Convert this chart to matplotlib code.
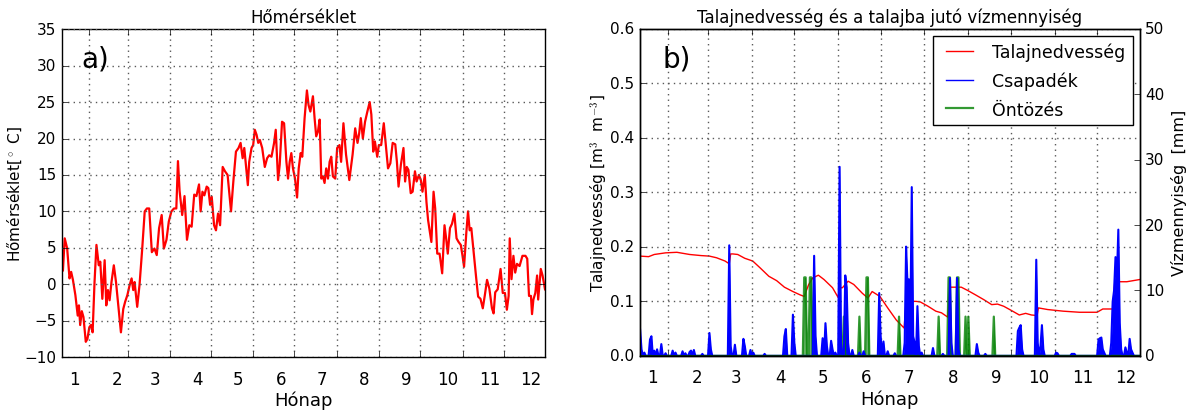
import matplotlib
matplotlib.use('Agg')
import matplotlib.pyplot as plt
import numpy as np

# honapok kezdonapja (az ev napja) es a cimkek
month_start = [1, 32, 60, 91, 121, 152, 182, 213, 244, 274, 305, 335]
month_labels = ['1', '2', '3', '4', '5', '6', '7', '8', '9', '10', '11', '12']

# homerseklet [C], leolvasva
temp_day = [12.7, 14.0, 15.8, 17.5, 18.7, 20.0, 21.8, 23.5, 24.4, 25.3, 26.5, 27.7, 29.4, 30.6,
            32.0, 33.2, 34.4, 35.8, 37.2, 38.9, 40.0, 41.5, 43.2, 44.4, 45.6, 46.8, 48.2, 49.9,
            51.5, 53.4, 55.1, 56.8, 58.2, 59.8, 61.5, 62.9, 64.1, 65.1, 67.0, 68.7, 70.6, 72.5,
            74.1, 75.8, 77.7, 79.6, 81.3, 83.0, 84.9, 86.5, 88.4, 90.1, 92.0, 93.9, 95.6, 96.8,
            98.0, 99.9, 101.6, 103.4, 105.1, 106.8, 108.7, 110.3, 112.2, 113.4,
            114.7, 116.1, 117.8, 119.0, 120.3, 121.5, 123.2, 124.6, 126.1, 127.6, 129.5, 131.2,
            133.1, 135.6, 137.3, 139.2, 141.1, 142.6, 144.1, 145.3, 146.5, 147.9, 148.9, 150.6,
            151.8, 153.0, 154.3, 155.5, 156.7, 158.4, 160.3, 162.0, 163.5, 165.2, 167.1, 168.3,
            170.0, 171.2, 172.9, 174.4, 176.1, 177.3, 178.5, 179.7, 180.9, 182.4, 183.9, 185.1,
            186.5, 187.7, 189.4, 191.1, 192.3, 193.6, 195.5, 196.7, 197.9, 199.2, 200.4, 201.6,
            202.8, 204.0, 205.2,
            206.5, 207.7, 208.9, 210.1, 211.8, 213.2, 214.9, 216.1, 217.8, 219.7, 222.1, 224.5,
            226.4, 228.1, 229.3, 230.5, 232.0, 233.6, 235.3, 237.0, 238.2, 239.6, 240.8, 242.5,
            243.7, 245.4, 247.3, 249.0, 250.4, 252.1, 253.8, 255.7, 256.9, 258.1, 259.8, 261.7,
            262.9, 264.1, 265.3, 267.0, 268.4, 270.1, 271.3, 273.0, 274.4, 275.6, 277.3, 278.5,
            279.7, 282.1, 283.7, 284.9, 286.4, 288.1, 290.0, 291.7, 292.9, 294.1, 295.7, 297.2,
            298.9, 300.5, 302.0, 303.6, 304.8, 306.0, 307.7, 308.9, 310.1, 311.3, 313.2, 314.9,
            316.3, 318.0, 319.7, 321.2, 322.8, 324.5, 326.4, 327.6, 328.8,
            330.6, 332.7, 334.3, 335.9, 337.3, 338.6, 339.4, 340.7, 342.1, 343.4, 344.7, 346.6,
            348.7, 350.9, 352.2, 353.5, 354.9, 355.7, 356.7, 358.1, 359.4, 360.2, 362.1, 363.4,
            365.2]
temp_val = [1.9, 6.3, 4.9, 0.8, 1.7, 0.6, -1.5, -4.3, -2.9, -5.6, -3.7, -4.5, -7.9, -7.5,
            -5.9, -5.6, -6.6, 0.3, 5.4, 2.6, 3.1, -2.0, 3.3, -2.9, -0.8, -2.2, 0.3, 2.6,
            0.3, -3.4, -6.6, -3.4, -2.4, -1.5, -0.1, 0.8, -0.8, 0.3, -3.1, -0.1, 4.7, 10.0,
            10.4, 10.4, 4.4, 4.9, 4.0, 7.7, 9.5, 4.9, 6.1, 8.6, 10.0, 10.4, 10.4, 16.9,
            12.8, 9.5, 12.1, 6.1, 8.1, 7.9, 12.3, 12.1, 13.7, 10.0,
            12.7, 12.2, 13.4, 13.2, 10.9, 12.0, 8.1, 7.4, 9.7, 8.1, 16.1, 15.5,
            15.0, 10.0, 14.1, 18.2, 18.7, 19.4, 17.3, 18.7, 16.4, 13.6, 16.8, 18.7,
            19.1, 21.2, 20.5, 19.4, 19.8, 18.7, 16.1, 17.3, 17.7, 17.5, 19.4, 21.2,
            14.3, 16.4, 22.3, 22.1, 16.8, 14.5, 16.8, 18.0, 15.9, 14.5, 11.9, 15.9,
            18.0, 17.5, 22.8, 26.6, 24.6, 23.7, 25.8, 22.8, 20.3, 21.0, 22.6, 14.5,
            14.8, 13.9, 15.9,
            14.5, 16.8, 17.5, 14.8, 14.5, 18.7, 19.1, 16.8, 22.1, 17.8, 14.3, 17.8,
            21.4, 19.4, 20.7, 22.8, 20.0, 22.3, 23.7, 25.0, 23.3, 18.2, 19.6, 17.5,
            19.1, 19.1, 22.1, 18.7, 15.9, 16.6, 19.4, 19.2, 16.8, 13.4, 16.4, 18.7,
            14.1, 16.1, 15.7, 12.5, 12.7, 15.5, 14.1, 15.0, 14.3, 12.7, 15.0, 11.3,
            8.8, 5.8, 12.7, 10.4, 4.2, 4.2, 1.5, 8.1, 6.3, 4.2, 7.7, 8.3,
            9.7, 6.3, 5.8, 5.4, 4.0, 2.4, 7.2, 10.0, 7.4, 7.7, 4.0, 0.8,
            -1.7, -2.0, -3.3, -1.5, 0.6, -0.6, -3.3, -4.0, -1.1,
            -0.7, 2.1, -1.2, -1.2, -3.5, -1.6, 6.3, 0.7, 3.9, 1.6, 2.8, 2.5,
            3.9, 3.9, 3.5, -1.6, -1.6, -4.1, -2.1, -1.2, 1.2, -2.1, 2.1, 1.2,
            -0.7]

# talajnedvesseg [m3 m-3]
sm_day = [12, 18, 22, 30, 38, 47, 55, 61, 66, 72, 75, 76, 77.5, 81, 86, 91.6, 97, 103, 108.5,
          114, 120, 125, 128, 131, 134, 138, 142, 148, 152, 153, 155, 159, 163, 169, 173, 176,
          181.5, 187, 193, 198.6, 200, 207, 210, 215.5, 221, 225, 229.5, 231, 239, 243.5, 249,
          255, 260.5, 264.6, 269, 274.6, 280, 284.5, 288.6, 292.6, 293.5, 300, 311, 322.5, 335,
          339, 346, 347.5, 356, 365]
sm_val = [0.183, 0.182, 0.186, 0.189, 0.190, 0.186, 0.184, 0.183, 0.180, 0.174, 0.169, 0.187,
          0.187, 0.186, 0.179, 0.174, 0.161, 0.146, 0.138, 0.126, 0.118, 0.112, 0.109, 0.130,
          0.143, 0.148, 0.140, 0.125, 0.107, 0.125, 0.125, 0.137, 0.131, 0.115, 0.106, 0.118,
          0.109, 0.088, 0.066, 0.051, 0.100, 0.100, 0.099, 0.091, 0.082, 0.079, 0.071, 0.126,
          0.126, 0.120, 0.112, 0.103, 0.094, 0.095, 0.091, 0.083, 0.075, 0.078, 0.075, 0.074,
          0.088, 0.085, 0.082, 0.080, 0.080, 0.086, 0.086, 0.136, 0.136, 0.140]

# csapadek [mm]
rain_day = [12, 13, 15, 19, 20, 22, 24, 27, 30, 35, 37, 42, 44, 47, 48, 50, 56, 61, 62, 75, 76,
            79, 85, 86, 90, 92, 100, 114, 115, 120, 121, 135, 136, 141, 143, 144, 147, 148, 150,
            153, 154, 157, 158, 159, 162, 167, 170, 181, 182, 184, 187, 192, 199, 200, 201, 202,
            203, 204, 205, 206, 208, 209, 211, 219, 226, 231, 232, 236, 237, 250, 251, 256, 279,
            280, 281, 282, 292, 293, 295, 296, 297, 306, 307, 317, 318, 319, 336, 337, 338, 339,
            340, 345, 346, 347, 348, 349, 350, 351, 352, 355, 356, 358, 359, 360]
rain_mm = [4.0, 1.0, 0.5, 2.5, 3.0, 0.8, 1.0, 1.8, 0.4, 0.8, 0.5, 0.7, 0.4, 0.6, 0.8, 0.9, 0.3,
           3.5, 1.0, 16.9, 1.5, 1.7, 2.6, 1.5, 0.9, 0.5, 0.3, 3.0, 4.1, 6.3, 2.0, 15.3, 3.0,
           2.7, 5.0, 1.5, 2.3, 1.0, 0.5, 28.9, 2.0, 12.3, 10.5, 2.0, 0.9, 0.5, 0.7, 9.6, 3.0,
           2.2, 0.7, 0.4, 2.0, 16.7, 11.0, 11.7, 5.0, 25.8, 3.0, 2.0, 7.6, 1.5, 0.5, 1.2, 0.3,
           11.9, 2.0, 11.9, 1.0, 1.8, 0.5, 0.3, 3.8, 4.3, 4.7, 1.0, 14.7, 2.0, 1.5, 4.7, 1.0,
           0.5, 0.4, 0.3, 0.3, 0.3, 2.5, 2.7, 2.8, 1.0, 0.5, 2.0, 8.3, 10.0, 15.1, 12.0, 19.3,
           5.0, 1.0, 1.3, 0.5, 2.6, 1.0, 0.5]

# ontozes [mm]
irr_day = [128, 129, 132, 133, 156, 167, 172, 173, 195, 223, 230, 231, 236, 237, 242, 244, 262]
irr_mm = [12, 12, 12, 12, 6, 6, 12, 12, 6, 6, 12, 12, 12, 12, 6, 6, 6]

days = np.arange(12, 366)
rain = np.zeros(len(days))
rain[np.array(rain_day) - 12] = rain_mm
irr = np.zeros(len(days))
irr[np.array(irr_day) - 12] = irr_mm

plt.style.use('classic')
plt.rcParams['figure.facecolor'] = 'white'
plt.rcParams['savefig.facecolor'] = 'white'
plt.rcParams['font.family'] = 'DejaVu Sans'
plt.rcParams['xtick.labelsize'] = 11
plt.rcParams['ytick.labelsize'] = 11


def month_axis(ax):
    ax.set_xlim(12, 365)
    ax.set_xticks(month_start[1:])
    ax.set_xticklabels([])
    ax.set_xticks([d + 20 for d in month_start], minor=True)
    ax.set_xticklabels(month_labels, minor=True, fontsize=12)
    ax.tick_params(axis='x', which='minor', length=0, pad=9)
    ax.grid(True, which='major', color='0.35', linestyle=':', linewidth=1.0)
    ax.set_xlabel('Hónap', fontsize=13, labelpad=2)


fig = plt.figure(figsize=(11.92, 4.14), dpi=100)

# a) homerseklet
ax = fig.add_axes([0.052, 0.135, 0.405, 0.792])
ax.plot(temp_day, temp_val, color='r', lw=1.6)
month_axis(ax)
ax.set_ylim(-10, 35)
ax.set_yticks(np.arange(-10, 36, 5))
ax.set_ylabel('Hőmérséklet[$^\\circ$ C]', fontsize=11, labelpad=0)
ax.set_title('Hőmérséklet', fontsize=12)
ax.text(0.04, 0.91, 'a)', transform=ax.transAxes, fontsize=20, va='center')

# b) talajnedvesseg es viz
ax1 = fig.add_axes([0.537, 0.138, 0.419, 0.79])
ax2 = ax1.twinx()
ax1.plot(sm_day, sm_val, color='r', lw=1.0, label='Talajnedvesség')
ax2.fill_between(days, irr, color='g', alpha=0.6, lw=0)
l_irr, = ax2.plot(days, irr, color='g', lw=1.6, alpha=0.8, label='Öntözés')
ax2.fill_between(days, rain, color='b', lw=0)
l_rain, = ax2.plot(days, rain, color='b', lw=1.5, label='Csapadék')
ax2.plot(days, irr * 0, color='#003300', lw=2)

month_axis(ax1)
ax1.set_ylim(0, 0.6)
ax1.set_yticks(np.arange(0, 0.61, 0.1))
ax1.set_yticklabels(['%.1f' % v for v in np.arange(0, 0.61, 0.1)])
ax1.grid(True, axis='y', color='0.35', linestyle=':', linewidth=1.0)
ax2.set_ylim(0, 50)
ax2.set_yticks(np.arange(0, 51, 10))
ax2.set_xlim(12, 365)
ax1.set_ylabel('Talajnedvesség [m$^3$  m$^{-3}$]', fontsize=11, labelpad=0)
ax2.set_ylabel('Vízmennyiség  [mm]', fontsize=11.5)
ax1.set_title('Talajnedvesség és a talajba jutó vízmennyiség', fontsize=12)
ax1.text(0.045, 0.91, 'b)', transform=ax1.transAxes, fontsize=20, va='center')

l_sm = ax1.get_lines()[0]
l_rain_leg = plt.Line2D([], [], color='b', lw=1.0)
ax2.legend([l_sm, l_rain_leg, l_irr], ['Talajnedvesség', 'Csapadék', 'Öntözés'],
           loc='upper right', fontsize=12.5, labelspacing=0.6, handlelength=2.2,
           borderaxespad=0.4, numpoints=2)

fig.savefig('out.png', dpi=100)
